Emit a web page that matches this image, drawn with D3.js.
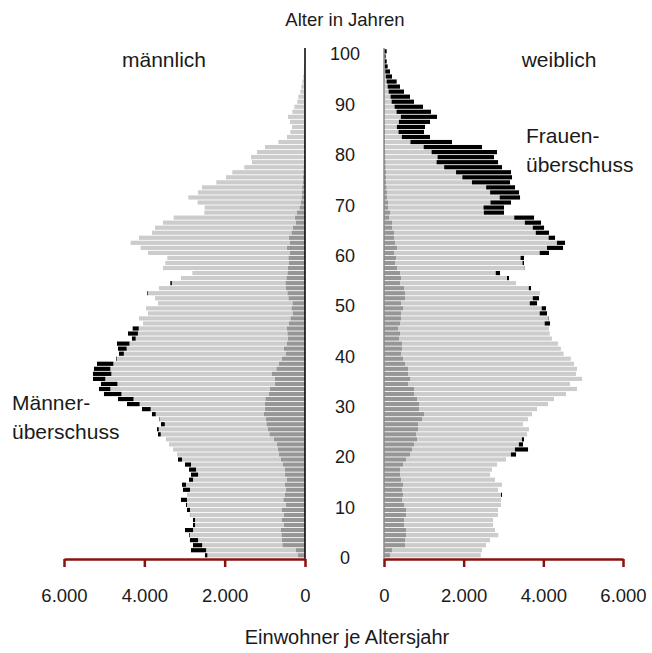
<!DOCTYPE html>
<html><head><meta charset="utf-8">
<script src="https://cdn.jsdelivr.net/npm/d3@7"></script>
<style>
body{margin:0;background:#fff;}
text{font-family:"Liberation Sans",Arial,sans-serif;fill:#1a1a1a;}
</style></head>
<body>
<svg id="chart" width="652" height="653"></svg>
<script>
const ages = d3.range(0, 101);
const ageTicks = [0,10,20,30,40,50,60,70,80,90,100];
const valueTicks = [0,2000,4000,6000];

const male = [2490,2839,2789,2864,2888,2988,2789,2789,2864,2938,
2963,3088,2938,3038,3063,2888,2839,2888,2988,3162,
3187,3287,3386,3461,3660,3685,3586,3627,3810,4059,
4432,4656,5005,5129,5080,5279,5279,5254,5179,4706,
4631,4656,4681,4308,4407,4291,4034,4133,3909,3959,
3660,3735,3934,3635,3353,3088,2805,3536,3478,3428,
3909,4092,4341,4133,3810,3735,3536,3270,2507,2498,
2673,2905,2664,2565,2208,1967,1809,1511,1320,1345,
1195,996,664,448,365,324,374,423,315,266,
191,166,116,91,66,45,30,20,12,8,
5];

const female = [2430,2461,2561,2662,2870,2787,2737,2737,2860,2863,
2938,2938,2963,2863,2963,2787,2662,2712,2838,3063,
3315,3616,3490,3515,3591,3641,3490,3616,3716,3842,
4118,4269,4570,4846,4670,4972,4821,4846,4771,4690,
4510,4440,4370,4215,4160,4140,4168,4143,4093,4068,
3842,3892,3917,3691,3315,3139,2913,3540,3515,3515,
4143,4495,4545,4294,4143,4018,3942,3767,3013,3013,
3189,3415,3390,3289,3164,3214,3189,2963,2863,2762,
2837,2461,1707,1155,1004,1030,1155,1331,1180,979,
753,653,502,402,318,201,151,92,67,42,
67];

const maleInner = [174,224,564,581,589,598,523,573,531,573,
481,540,498,481,498,448,506,498,548,598,
656,681,706,780,888,921,963,971,1021,1004,
996,988,896,880,755,755,822,714,647,573,
473,523,448,423,440,448,398,365,299,340,
315,415,440,473,490,465,440,423,398,415,
374,457,374,407,340,307,224,257,200,140,
100,90,80,70,60,50,45,40,35,30,
28,25,22,20,18,16,14,12,10,9,
8,7,6,5,4,3,3,2,2,1,
1];

const femaleInner = [151,201,527,527,552,552,502,502,552,552,
502,452,477,452,477,427,402,402,477,552,
653,703,753,829,804,854,854,954,1004,879,
879,829,753,753,603,653,603,603,527,477,
427,452,452,377,402,352,402,427,427,477,
427,527,527,502,402,427,402,326,276,301,
251,326,276,251,251,201,201,126,151,100,
100,84,84,67,55,50,50,45,45,40,
40,35,30,30,25,25,20,20,18,15,
12,10,8,6,5,4,3,2,2,1,
1];

const COL_DARK = "#969696", COL_LIGHT = "#cccccc", COL_EX = "#000000", AXIS_RED = "#8b1010";

const svg = d3.select("#chart");
const y = d3.scaleBand().domain(ages.slice().reverse()).range([48.8, 557.8])
  .paddingInner(0.17).paddingOuter(0.085);
const xm = d3.scaleLinear().domain([0, 6000]).range([305, 64]);
const xf = d3.scaleLinear().domain([0, 6000]).range([384, 623]);
const de = d3.formatLocale({decimal: ",", thousands: ".", grouping: [3], currency: ["", " €"]});
const fmt = de.format(",d");

const rows = ages.map(a => ({age: a, m: male[a], f: female[a], mi: maleInner[a], fi: femaleInner[a]}));

function seg(sel, scale, lo, hi, color, cls) {
  sel.selectAll("rect." + cls).data(rows.filter(d => hi(d) > lo(d))).join("rect")
    .attr("class", cls)
    .attr("x", d => Math.min(scale(lo(d)), scale(hi(d))))
    .attr("width", d => Math.abs(scale(hi(d)) - scale(lo(d))))
    .attr("y", d => y(d.age))
    .attr("height", y.bandwidth())
    .attr("fill", color);
}

const gm = svg.append("g");
seg(gm, xm, d => 0, d => d.mi, COL_DARK, "md");
seg(gm, xm, d => d.mi, d => Math.min(d.m, d.f), COL_LIGHT, "ml");
seg(gm, xm, d => d.f, d => d.m, COL_EX, "mx");

const gf = svg.append("g");
seg(gf, xf, d => 0, d => d.fi, COL_DARK, "fd");
seg(gf, xf, d => d.fi, d => Math.min(d.m, d.f), COL_LIGHT, "fl");
seg(gf, xf, d => d.m, d => d.f, COL_EX, "fx");

// vertical axis lines
svg.append("line").attr("x1", xm(0)).attr("x2", xm(0)).attr("y1", 48).attr("y2", 559)
  .attr("stroke", "#000").attr("stroke-width", 1.5);
svg.append("line").attr("x1", xf(0)).attr("x2", xf(0)).attr("y1", 48).attr("y2", 559)
  .attr("stroke", "#8a8a8a").attr("stroke-width", 1.5);

// bottom axes
function bottomAxis(scale) {
  const g = svg.append("g").attr("transform", "translate(0,559)")
    .call(d3.axisBottom(scale).tickValues(valueTicks).tickFormat(fmt)
      .tickSize(8).tickSizeOuter(0).tickPadding(22));
  g.select(".domain").attr("stroke", AXIS_RED).attr("stroke-width", 2.5);
  g.selectAll(".tick line").attr("stroke", AXIS_RED).attr("stroke-width", 2.5);
  g.selectAll(".tick text").attr("font-size", 18.5).attr("font-family", '"Liberation Sans",Arial,sans-serif').attr("fill", "#1a1a1a");
}
bottomAxis(xm);
bottomAxis(xf);

// age labels
svg.append("g").selectAll("text").data(ageTicks).join("text")
  .attr("x", 345).attr("y", d => y(d) + y.bandwidth() / 2 + 3)
  .attr("text-anchor", "middle").attr("dominant-baseline", "central")
  .attr("font-size", 18).text(d => d);

const txt = (x, yy, s, size, anchor) => svg.append("text").attr("x", x).attr("y", yy)
  .attr("font-size", size).attr("text-anchor", anchor || "start").text(s);

txt(345, 26, "Alter in Jahren", 18.5, "middle");
txt(164, 67, "männlich", 21, "middle");
txt(559, 67, "weiblich", 21, "middle");
txt(526, 143, "Frauen-", 21);
txt(526, 172, "überschuss", 21);
txt(12, 410, "Männer-", 21);
txt(12, 439, "überschuss", 21);
txt(347, 644, "Einwohner je Altersjahr", 20, "middle");
</script>
</body></html>
